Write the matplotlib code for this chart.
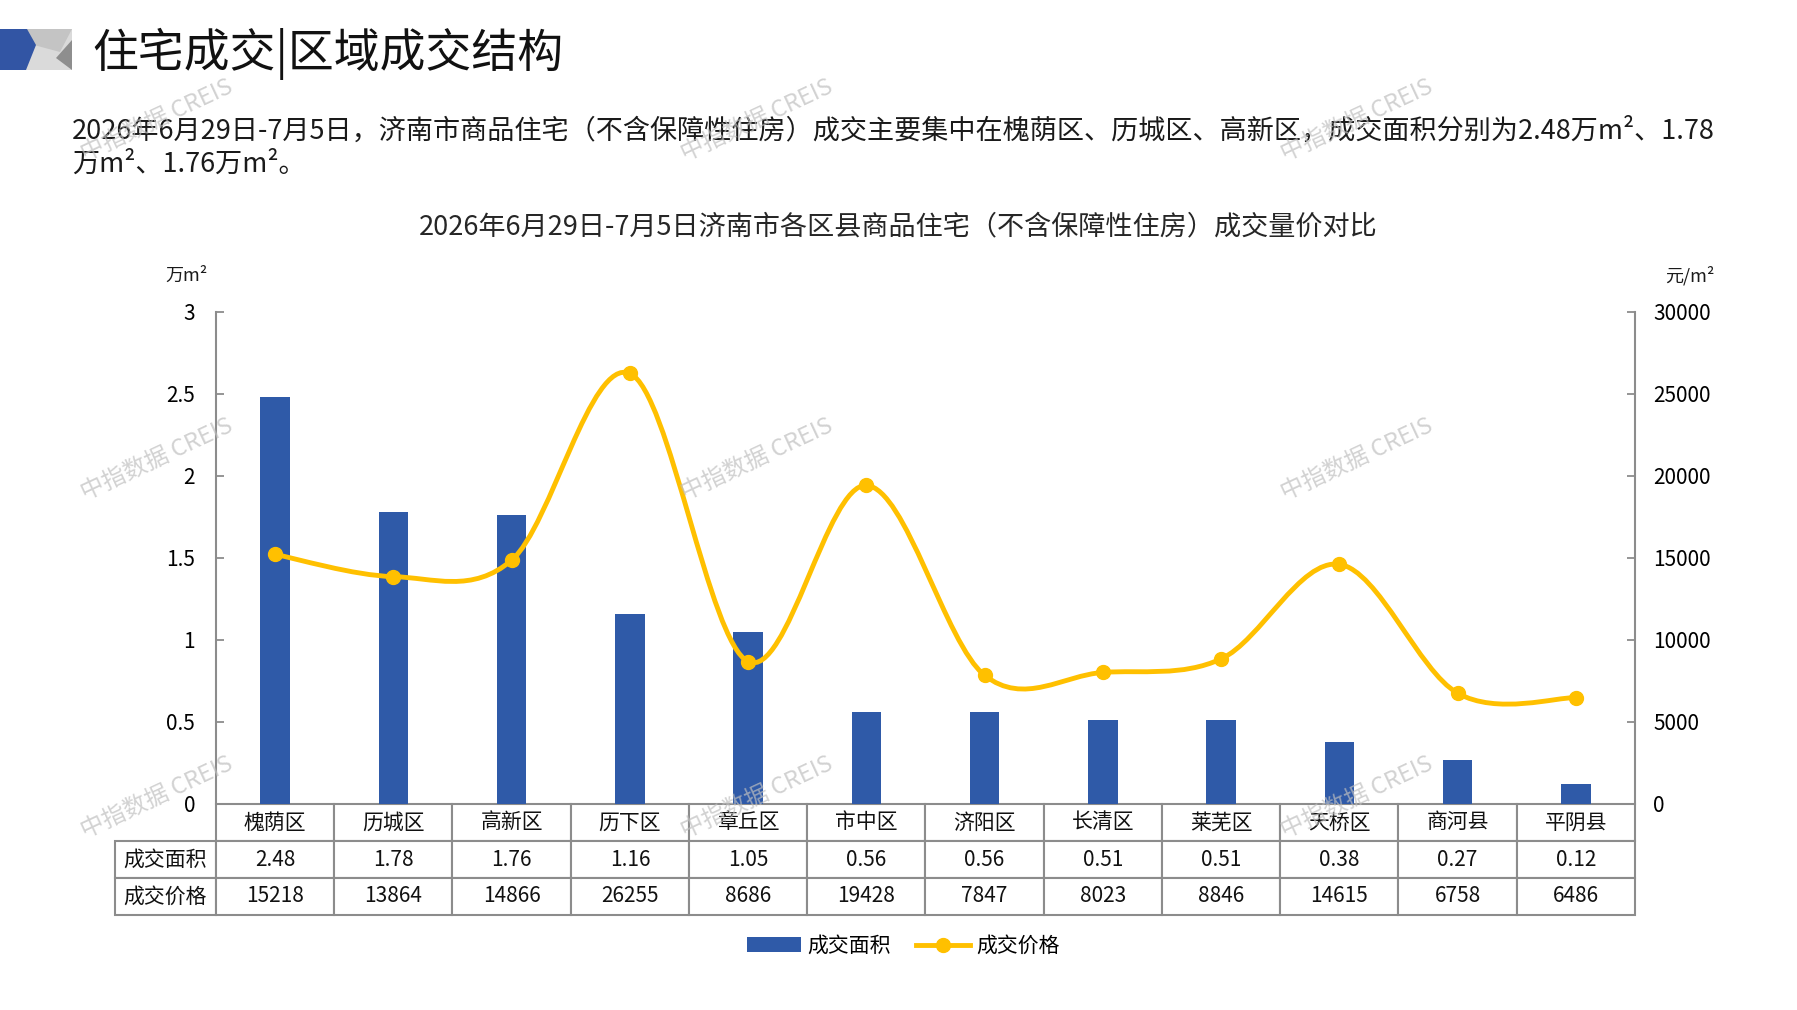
import numpy as np
import matplotlib
matplotlib.use('Agg')
import matplotlib.pyplot as plt
from matplotlib.path import Path
from matplotlib.patches import PathPatch, Polygon, Patch
from matplotlib.lines import Line2D

plt.rcParams['font.family'] = ['Noto Sans CJK SC', 'DejaVu Sans']

# data
districts = ['槐荫区', '历城区', '高新区', '历下区', '章丘区', '市中区',
             '济阳区', '长清区', '莱芜区', '天桥区', '商河县', '平阴县']
area = [2.48, 1.78, 1.76, 1.16, 1.05, 0.56, 0.56, 0.51, 0.51, 0.38, 0.27, 0.12]
price = [15218, 13864, 14866, 26255, 8686, 19428, 7847, 8023, 8846, 14615, 6758, 6486]
row_names = ['成交面积', '成交价格']
area_ticks = [0, 0.5, 1, 1.5, 2, 2.5, 3]
area_tick_labels = ['0', '0.5', '1', '1.5', '2', '2.5', '3']
price_ticks = [0, 5000, 10000, 15000, 20000, 25000, 30000]

header = '住宅成交|区域成交结构'
intro1 = ('2026年6月29日-7月5日，济南市商品住宅（不含保障性住房）成交主要集中在槐荫区、'
          '历城区、高新区，成交面积分别为2.48万m²、1.78')
intro2 = '万m²、1.76万m²。'
chart_title = '2026年6月29日-7月5日济南市各区县商品住宅（不含保障性住房）成交量价对比'
left_unit = '万m²'
right_unit = '元/m²'

BLUE = '#2F5AA8'
GOLD = '#FFC000'
LINE = '#8C8C8C'

W, H = 1797, 1010
def fx(px):
    return px / W
def fy(py):
    return 1 - py / H

fig = plt.figure(figsize=(W / 100, H / 100), dpi=100)

# little logo at top left
logo = [
    ([(25, 29), (72, 29), (72, 70), (24, 70)], '#DADADA'),
    ([(25, 29), (72, 29), (60, 52), (34, 45)], '#C4C4C4'),
    ([(72, 40), (72, 70), (56, 58)], '#8E8E8E'),
    ([(0, 29), (27, 29), (36, 45), (26, 70), (0, 70)], '#3255A4'),
]
for pts, c in logo:
    fig.add_artist(Polygon([(fx(a), fy(b)) for a, b in pts], closed=True,
                           facecolor=c, edgecolor='none', transform=fig.transFigure))

fig.text(fx(92), fy(54), header, fontsize=33, va='center', ha='left', color='#111111')
fig.text(fx(72), fy(131), intro1, fontsize=19.5, va='center', ha='left', color='#1A1A1A')
fig.text(fx(72), fy(164), intro2, fontsize=19.5, va='center', ha='left', color='#1A1A1A')
fig.text(0.5, fy(227), chart_title, fontsize=19.5, va='center', ha='center', color='#262626')
fig.text(fx(186), fy(276), left_unit, fontsize=13, va='center', ha='center', color='#1A1A1A')
fig.text(fx(1690), fy(276), right_unit, fontsize=13, va='center', ha='center', color='#1A1A1A')

# watermarks
for wy in [120, 459, 797]:
    for wx in [157, 757, 1357]:
        fig.text(fx(wx), fy(wy), '中指数据 CREIS', fontsize=17, rotation=25,
                 ha='center', va='center', color='#BFBFBF', alpha=0.7, zorder=10)

ax = fig.add_axes([fx(216), fy(804), fx(1635) - fx(216), fy(312) - fy(804)])
x = np.arange(len(districts))
ax.bar(x, area, width=0.25, color=BLUE, zorder=2)
ax.set_xlim(-0.5, len(districts) - 0.5)
ax.set_ylim(0, 3)
ax.set_yticks(area_ticks)
ax.set_yticklabels(area_tick_labels)
ax.set_xticks([])
ax.tick_params(axis='y', direction='in', length=6, width=1.3, color=LINE,
               labelsize=15, pad=15)
for s in ['top', 'bottom', 'right']:
    ax.spines[s].set_visible(False)
ax.spines['left'].set_color(LINE)
ax.spines['left'].set_linewidth(1.5)
ax.patch.set_alpha(0)

ax2 = ax.twinx()
ax2.set_ylim(0, 30000)
ax2.set_yticks(price_ticks)
ax2.set_yticklabels([str(t) for t in price_ticks])
ax2.tick_params(axis='y', direction='in', length=6, width=1.3, color=LINE,
                labelsize=15, pad=13)
for s in ['top', 'bottom', 'left']:
    ax2.spines[s].set_visible(False)
ax2.spines['right'].set_color(LINE)
ax2.spines['right'].set_linewidth(1.5)

# smoothed price line (bezier through the points, like excel)
pts = np.column_stack([x, np.array(price, float)])
n = len(pts)
verts = [tuple(pts[0])]
codes = [Path.MOVETO]
for i in range(n - 1):
    p_prev = pts[i - 1] if i > 0 else pts[i]
    p_next2 = pts[i + 2] if i + 2 < n else pts[i + 1]
    c1 = pts[i] + (pts[i + 1] - p_prev) / 6
    c2 = pts[i + 1] - (p_next2 - pts[i]) / 6
    verts += [tuple(c1), tuple(c2), tuple(pts[i + 1])]
    codes += [Path.CURVE4] * 3
ax2.add_patch(PathPatch(Path(verts, codes), facecolor='none', edgecolor=GOLD,
                        lw=3.5, capstyle='round', zorder=3))
ax2.plot(x, price, 'o', color=GOLD, ms=10, zorder=4)

# data table under the plot (bbox covers the data cells only)
cell_text = [['%.2f' % v for v in area], [str(v) for v in price]]
aw = 1635 - 216
ah = 804 - 312
tbl = ax.table(cellText=cell_text, colLabels=districts,
               colWidths=[1 / len(districts)] * len(districts),
               cellLoc='center', bbox=[0, -111 / ah, 1, 111 / ah])
rh = tbl[1, 0].get_height()
for r, name in enumerate(row_names, start=1):
    tbl.add_cell(r, -1, 101 / aw, rh, text=name, loc='center')
tbl.auto_set_font_size(False)
tbl.set_fontsize(15)
for (r, c), cell in tbl.get_celld().items():
    cell.set_edgecolor(LINE)
    cell.set_linewidth(1.5)
    cell.get_text().set_color('#111111')

handles = [Patch(facecolor=BLUE, edgecolor='none'),
           Line2D([], [], color=GOLD, lw=3.5, marker='o', ms=10)]
fig.legend(handles, row_names, loc='center', bbox_to_anchor=(fx(903), fy(946)),
           ncol=2, frameon=False, fontsize=15, handlelength=2.6,
           handletextpad=0.3, columnspacing=1.2)

fig.savefig('out.png', dpi=100)
